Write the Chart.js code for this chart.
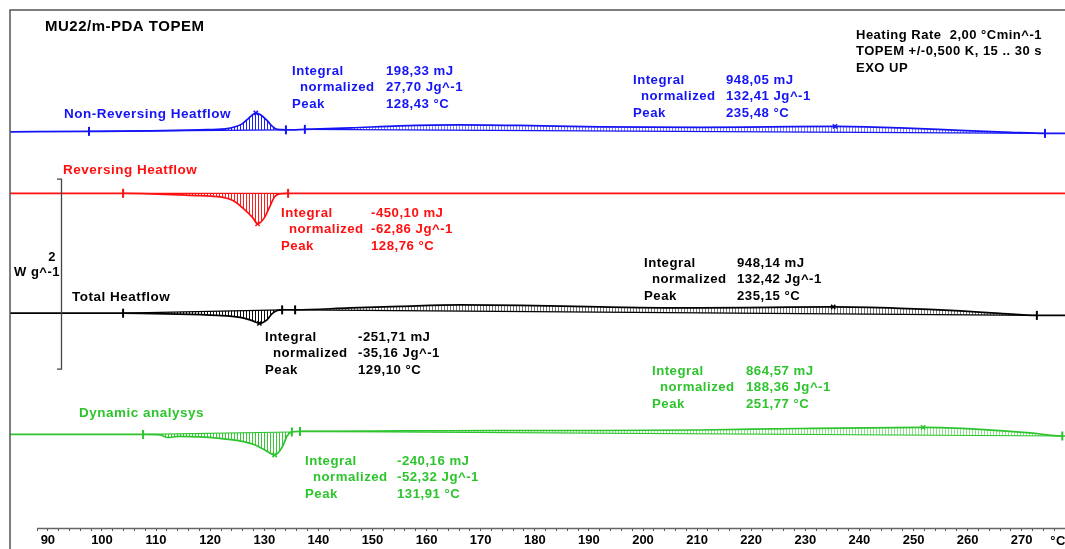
<!DOCTYPE html>
<html>
<head>
<meta charset="utf-8">
<title>MU22/m-PDA TOPEM</title>
<script src="https://cdn.jsdelivr.net/npm/chart.js@4.4.1/dist/chart.umd.min.js"></script>
<style>
  html, body { margin: 0; padding: 0; background: #fff; }
  #wrap { width: 1065px; height: 549px; }
</style>
</head>
<body>
<div id="wrap"><canvas id="dsc" width="1065" height="549"></canvas></div>
<script>
// ---- Measured curves: temperature (°C) and heat flow (W/g, relative to each curve's start level)

// Non-Reversing Heatflow
const nrTemp = [83, 97.6, 109, 118, 122.8, 124.6, 125.9, 127, 127.8, 128.43, 129.3, 130.4, 131.4, 132.4, 134, 137.5, 146, 155, 166, 177, 192, 210.6, 223.5, 235.48, 247.5, 258.6, 268, 274.3, 278];
const nrFlow = [0, 0.005, 0.011, 0.021, 0.032, 0.053, 0.084, 0.137, 0.179, 0.200, 0.179, 0.126, 0.063, 0.026, 0.021, 0.026, 0.042, 0.063, 0.074, 0.068, 0.053, 0.047, 0.053, 0.058, 0.042, 0.016, -0.005, -0.016, -0.016];
const nrRanges = [[97.6, 134.0], [137.5, 274.3]];
const nrPeaks = [128.43, 235.48];

// Reversing Heatflow
const revTemp = [83, 103.9, 108.9, 114.4, 118.1, 121.8, 124.2, 126.0, 127.9, 128.76, 130.0, 131.0, 131.9, 132.8, 134.4, 278];
const revFlow = [0, 0, -0.005, -0.016, -0.024, -0.037, -0.076, -0.153, -0.258, -0.321, -0.258, -0.142, -0.037, -0.005, 0, 0];
const revRanges = [[103.9, 134.4]];
const revPeaks = [128.76];

// Total Heatflow
const totTemp = [83, 103.9, 112.0, 121.3, 125.5, 127.9, 129.10, 130.5, 131.4, 132.4, 133.3, 135.7, 145.9, 155.1, 166.2, 177.3, 192.1, 210.6, 223.5, 235.15, 247.5, 258.6, 266.0, 272.8, 278];
const totFlow = [0, 0, -0.007, -0.023, -0.044, -0.081, -0.107, -0.071, -0.008, 0.029, 0.035, 0.035, 0.056, 0.072, 0.087, 0.082, 0.066, 0.055, 0.061, 0.066, 0.051, 0.024, -0.002, -0.023, -0.023];
const totRanges = [[103.9, 133.3], [135.7, 272.8]];
const totPeaks = [129.10, 235.15];

// Dynamic analysys
const dynTemp = [83, 107.6, 110.7, 112.2, 114.1, 118.1, 121.8, 125.5, 128.3, 130.1, 131.91, 132.7, 133.5, 134.2, 135.1, 136.6, 155.1, 173.6, 192.1, 210.6, 229.0, 251.77, 262.3, 271.6, 277.5, 278];
const dynFlow = [0, 0, -0.005, -0.032, -0.021, -0.026, -0.042, -0.068, -0.111, -0.163, -0.216, -0.184, -0.111, -0.016, 0.026, 0.032, 0.037, 0.042, 0.042, 0.047, 0.063, 0.074, 0.053, 0.016, -0.016, -0.016];
const dynRanges = [[107.6, 135.1], [136.6, 277.5]];
const dynPeaks = [131.91, 251.77];

// Vertical stacking of the four traces (W/g)
const curveOffsets = { nr: 4.168, rev: 3.521, tot: 2.260, dyn: 0.984 };

// Temperature axis ticks
const xTickStep = 2;
const xLabelStep = 10;
const xFirstTick = 88;
const xLastTick = 276;

// Evaluation results printed next to each peak
const nrResults = [["198,33 mJ", "27,70 Jg^-1", "128,43 °C"], ["948,05 mJ", "132,41 Jg^-1", "235,48 °C"]];
const revResults = [["-450,10 mJ", "-62,86 Jg^-1", "128,76 °C"]];
const totResults = [["-251,71 mJ", "-35,16 Jg^-1", "129,10 °C"], ["948,14 mJ", "132,42 Jg^-1", "235,15 °C"]];
const dynResults = [["-240,16 mJ", "-52,32 Jg^-1", "131,91 °C"], ["864,57 mJ", "188,36 Jg^-1", "251,77 °C"]];

const BLUE = '#1414f5';
const RED = '#ff1010';
const BLACK = '#000000';
const GREEN = '#2ec42e';
const FONT = 'Liberation Sans, Arial, sans-serif';

function valueAt(temp, flow, t) {
  for (let i = 0; i < temp.length - 1; i++) {
    if (t >= temp[i] && t <= temp[i + 1]) {
      const f = (t - temp[i]) / (temp[i + 1] - temp[i]);
      return flow[i] + f * (flow[i + 1] - flow[i]);
    }
  }
  return flow[flow.length - 1];
}

function hatchPattern(color, alpha) {
  const c = document.createElement('canvas');
  c.width = 3; c.height = 4;
  const g = c.getContext('2d');
  g.globalAlpha = alpha;
  g.fillStyle = color;
  g.fillRect(0, 0, 1, 4);
  return g.createPattern(c, 'repeat');
}

const datasets = [];
function addCurve(temp, flow, offset, ranges, peaks, color) {
  const curveIdx = datasets.length;
  datasets.push({
    data: temp.map((t, i) => ({ x: t, y: offset + flow[i] })),
    borderColor: color, borderWidth: 1.7, pointRadius: 0,
    cubicInterpolationMode: 'monotone', fill: false
  });
  ranges.forEach(([a, b]) => {
    // long, shallow integrations are hatched more faintly
    const hatch = hatchPattern(color, b - a > 60 ? 0.55 : 0.95);
    datasets.push({
      data: [{ x: a, y: offset + valueAt(temp, flow, a) }, { x: b, y: offset + valueAt(temp, flow, b) }],
      borderColor: color, borderWidth: 1.2, pointRadius: 0,
      fill: { target: curveIdx, above: hatch, below: hatch }
    });
  });
  datasets.push({
    data: ranges.flat().map(t => ({ x: t, y: offset + valueAt(temp, flow, t) })),
    showLine: false, pointStyle: 'line', rotation: 90, pointRadius: 4.5,
    pointBorderWidth: 2, pointBorderColor: color, borderColor: color, backgroundColor: color
  });
  datasets.push({
    data: peaks.map(t => ({ x: t, y: offset + valueAt(temp, flow, t) })),
    showLine: false, pointStyle: 'crossRot', pointRadius: 3,
    pointBorderWidth: 1.5, pointBorderColor: color, borderColor: color, backgroundColor: color
  });
}

addCurve(nrTemp, nrFlow, curveOffsets.nr, nrRanges, nrPeaks, BLUE);
addCurve(revTemp, revFlow, curveOffsets.rev, revRanges, revPeaks, RED);
addCurve(totTemp, totFlow, curveOffsets.tot, totRanges, totPeaks, BLACK);
addCurve(dynTemp, dynFlow, curveOffsets.dyn, dynRanges, dynPeaks, GREEN);

// Text blocks: [x of caption, x of value, y of first line, colour, results]
const resultBlocks = [
  [292, 386, 71, BLUE, nrResults[0]],
  [633, 726, 80, BLUE, nrResults[1]],
  [281, 371, 213, RED, revResults[0]],
  [265, 358, 337, BLACK, totResults[0]],
  [644, 737, 263, BLACK, totResults[1]],
  [305, 397, 461, GREEN, dynResults[0]],
  [652, 746, 371, GREEN, dynResults[1]]
];
const curveLabels = [
  ['Non-Reversing Heatflow', 64, 114, BLUE],
  ['Reversing Heatflow', 63, 170, RED],
  ['Total Heatflow', 72, 297, BLACK],
  ['Dynamic analysys', 79, 413, GREEN]
];

const decorations = {
  id: 'decorations',
  afterDraw(chart) {
    const ctx = chart.ctx;
    const xs = chart.scales.x;
    const area = chart.chartArea;
    ctx.save();
    // frame
    ctx.strokeStyle = '#555';
    ctx.lineWidth = 1.5;
    ctx.beginPath();
    ctx.moveTo(10, chart.height);
    ctx.lineTo(10, 10);
    ctx.lineTo(chart.width, 10);
    ctx.stroke();
    // temperature axis line
    ctx.strokeStyle = '#666';
    ctx.lineWidth = 1.5;
    ctx.beginPath();
    ctx.moveTo(xs.getPixelForValue(xFirstTick), area.bottom + 0.5);
    ctx.lineTo(chart.width, area.bottom + 0.5);
    ctx.stroke();
    // heat flow scale bar (2 W/g)
    const ys = chart.scales.y;
    const barTop = ys.getPixelForValue(curveOffsets.rev + 0.15);
    const barBot = ys.getPixelForValue(curveOffsets.rev + 0.15 - 2);
    ctx.strokeStyle = '#444';
    ctx.lineWidth = 1.3;
    ctx.beginPath();
    ctx.moveTo(57, barTop); ctx.lineTo(61.5, barTop);
    ctx.lineTo(61.5, barBot); ctx.lineTo(57, barBot);
    ctx.stroke();

    ctx.letterSpacing = '0.5px';
    ctx.textBaseline = 'middle';
    ctx.textAlign = 'left';
    ctx.fillStyle = '#000';
    ctx.font = 'bold 15px ' + FONT;
    ctx.fillText('MU22/m-PDA TOPEM', 45, 27);
    ctx.font = 'bold 13px ' + FONT;
    ctx.fillText('Heating Rate  2,00 °Cmin^-1', 856, 35);
    ctx.fillText('TOPEM +/-0,500 K, 15 .. 30 s', 856, 51);
    ctx.fillText('EXO UP', 856, 68);
    ctx.textAlign = 'right';
    ctx.fillText('2', 56, 257);
    ctx.fillText('W g^-1', 60, 272);
    ctx.textAlign = 'center';
    ctx.fillText('°C', 1058, 541);
    ctx.textAlign = 'left';

    ctx.font = 'bold 13.5px ' + FONT;
    curveLabels.forEach(([t, x, y, c]) => {
      ctx.fillStyle = c;
      ctx.fillText(t, x, y);
    });
    ctx.font = 'bold 13.2px ' + FONT;
    const captions = ['Integral', 'normalized', 'Peak'];
    resultBlocks.forEach(([cx, vx, y0, c, vals]) => {
      ctx.fillStyle = c;
      captions.forEach((cap, i) => {
        const y = y0 + i * 16.5;
        ctx.fillText(cap, cx + (i === 1 ? 8 : 0), y);
        ctx.fillText(vals[i], vx, y);
      });
    });
    ctx.restore();
  }
};

new Chart(document.getElementById('dsc'), {
  type: 'line',
  data: { datasets },
  options: {
    responsive: false,
    animation: false,
    devicePixelRatio: 1,
    events: [],
    layout: { autoPadding: false, padding: { left: 10, top: 10, right: 0, bottom: 0 } },
    plugins: { legend: { display: false }, tooltip: { enabled: false } },
    scales: {
      x: {
        type: 'linear', position: 'bottom', min: 83, max: 278,
        border: { display: false },
        grid: { display: true, drawOnChartArea: false, drawTicks: true, tickLength: 3, color: '#555', lineWidth: 1 },
        ticks: {
          color: '#000', padding: 2, maxRotation: 0, autoSkip: false,
          font: { family: FONT, weight: 'bold', size: 13 },
          callback: v => (v % xLabelStep === 0 ? String(v) : '')
        },
        afterBuildTicks(scale) {
          const t = [];
          for (let v = xFirstTick; v <= xLastTick; v += xTickStep) t.push({ value: v });
          scale.ticks = t;
        },
        afterFit(scale) {
          scale.height = 21;
          scale.paddingLeft = 0;
          scale.paddingRight = 0;
        }
      },
      y: { type: 'linear', display: false, min: 0, max: 5.45 }
    }
  },
  plugins: [decorations]
});
</script>
</body>
</html>
